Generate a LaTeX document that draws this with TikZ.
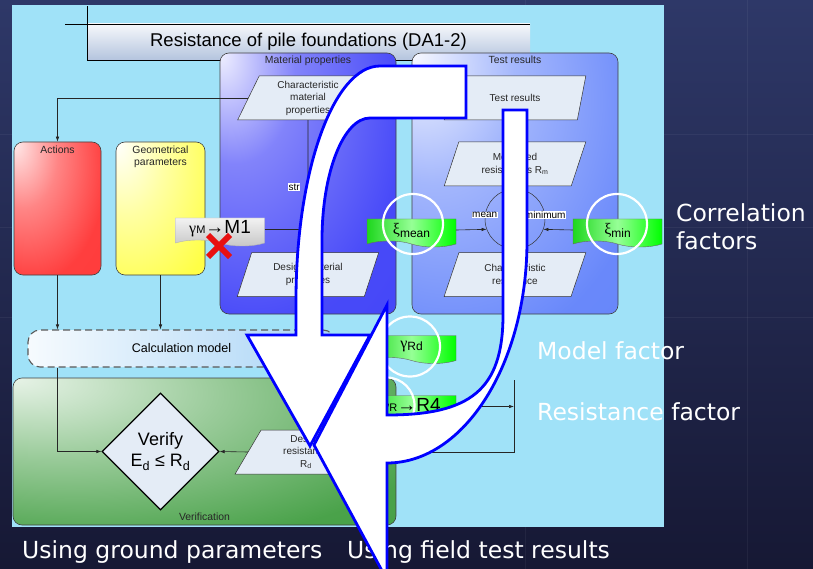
\documentclass[tikz,border=0pt]{standalone}
\usepackage{fontspec}
\setmainfont{Liberation Sans}
\newfontfamily\slidefont{DejaVu Sans}
\newfontfamily\greekfont{Liberation Serif}
\usetikzlibrary{positioning,shapes.geometric,shapes.symbols,arrows.meta}
\usepackage{xcolor}
\definecolor{slidetop}{RGB}{46,56,104}
\definecolor{slidebottom}{RGB}{22,24,52}
\definecolor{panelblue}{RGB}{160,226,248}
\definecolor{titlegrey}{RGB}{180,196,222}
\definecolor{matblue}{RGB}{60,62,248}
\definecolor{testblue}{RGB}{92,126,250}
\definecolor{actred}{RGB}{255,52,52}
\definecolor{geoyellow}{RGB}{255,255,50}
\definecolor{verifgreen}{RGB}{58,154,58}
\definecolor{calcblue}{RGB}{168,212,246}
\definecolor{paperfill}{RGB}{228,236,246}
\definecolor{tagdark}{RGB}{30,215,30}
\definecolor{taglight}{RGB}{150,255,150}
\definecolor{taglime}{RGB}{0,255,0}
\definecolor{pathblue}{RGB}{0,0,255}
\definecolor{crossred}{RGB}{232,16,16}

% light corner at the top left, full colour towards the far corner
\pgfdeclareradialshading{matglow}{\pgfpoint{-25bp}{25bp}}{color(0bp)=(white!92!matblue); color(17bp)=(matblue!64!white); color(42bp)=(matblue!94!white); color(100bp)=(matblue)}
\pgfdeclareradialshading{testglow}{\pgfpoint{-25bp}{25bp}}{color(0bp)=(white!95!testblue); color(20bp)=(testblue!56!white); color(46bp)=(testblue!92!white); color(100bp)=(testblue)}
\pgfdeclareradialshading{actglow}{\pgfpoint{-25bp}{25bp}}{color(0bp)=(white!90!actred); color(20bp)=(actred!60!white); color(42bp)=(actred!95!white); color(100bp)=(actred)}
\pgfdeclareradialshading{geoglow}{\pgfpoint{-25bp}{25bp}}{color(0bp)=(white); color(22bp)=(geoyellow!45!white); color(48bp)=(geoyellow!90!white); color(100bp)=(geoyellow)}
\pgfdeclareradialshading{verifglow}{\pgfpoint{-25bp}{25bp}}{color(0bp)=(white!88!verifgreen); color(22bp)=(verifgreen!52!white); color(46bp)=(verifgreen!92!white); color(100bp)=(verifgreen)}

\tikzset{
    group/.style={draw=black!75, line width=0.6pt, rounded corners=9pt, inner sep=0pt},
    grouptitle/.style={font=\fontsize{10.4}{12.5}\selectfont, text=black!85, inner sep=1pt, align=center},
    paper/.style={trapezium, trapezium left angle=69, trapezium right angle=111,
        trapezium stretches=true, minimum width=142pt, minimum height=44pt,
        draw=black!80, line width=0.5pt, fill=paperfill, inner sep=1pt,
        font=\fontsize{10}{12.5}\selectfont, text=black!85, align=center},
    tag/.style={tape, tape bend top=none, tape bend bottom=out and in, tape bend height=6pt,
        minimum width=89pt, minimum height=28pt, draw=black!60, line width=0.4pt, inner sep=0pt},
    greentag/.style={tag, left color=tagdark, right color=taglime, middle color=taglight},
    flow/.style={-{Latex[length=5pt,width=3.5pt]}, line width=0.6pt, draw=black!85},
    ring/.style={draw=white, line width=2.2pt},
    bigarrow/.style={fill=white, draw=pathblue, line width=2.8pt, line join=miter},
    slidetext/.style={text=white, font=\slidefont\fontsize{23.5}{28}\selectfont, anchor=base west, inner sep=0pt}
}

\begin{document}
\begin{tikzpicture}[x=1pt, y=-1pt]
        \useasboundingbox (0,0) rectangle (813,569);
        \shade[top color=slidetop, bottom color=slidebottom] (0,0) rectangle (813,569);
        \foreach \gx in {525,747}
            \draw[white, opacity=0.05, line width=1pt] (\gx,0) -- (\gx,569);
        \foreach \gy in {135,228,317}
            \draw[white, opacity=0.05, line width=1pt] (0,\gy) -- (813,\gy);
        \fill[panelblue] (12,5) rectangle (664,527);

        \node[top color=white!88!titlegrey, bottom color=titlegrey, minimum width=443pt, minimum height=36pt,
            inner sep=0pt, font=\fontsize{18.5}{20}\selectfont] (title) at (308.5,42) {Resistance of pile foundations (DA1-2)};
        \draw[line width=0.8pt] (65,24) -- (530,24) (87,6) -- (87,60) -- (530,60);

        \node[group, shading=matglow, minimum width=176pt, minimum height=261pt] (matprops) at (308,183.5) {};
        \node[group, shading=testglow, minimum width=206pt, minimum height=261pt] (testbox) at (515,183.5) {};
        \node[group, shading=actglow, minimum width=87pt, minimum height=133pt] (actions) at (57.5,208.5) {};
        \node[group, shading=geoglow, minimum width=89pt, minimum height=133pt] (geometry) at (160.5,208.5) {};
        \node[group, rounded corners=12pt, draw=black!65, line width=1.1pt, dash pattern=on 7pt off 4pt,
            left color=white!90!calcblue, right color=calcblue, minimum width=307pt, minimum height=37pt,
            font=\fontsize{12.5}{14}\selectfont] (calcmodel) at (181.5,348.5) {Calculation model};
        \node[group, shading=verifglow, minimum width=383pt, minimum height=147pt] (verifbox) at (204.5,451.5) {};

        \node[grouptitle, below=2pt of matprops.north] (mattitle) {Material properties};
        \node[grouptitle, below=2pt of testbox.north] (testtitle) {Test results};
        \node[grouptitle, below=3pt of actions.north] (acttitle) {Actions};
        \node[grouptitle, below=3pt of geometry.north] (geotitle) {Geometrical\\parameters};
        \node[grouptitle, above=4pt of verifbox.south] (veriftitle) {Verification};

        \node[paper] (charmat) at (308,98) {Characteristic\\material\\properties};
        \node[paper] (desmat) at (308,274.5) {Design material\\properties};
        \node[paper] (testres) at (515,98) {Test results};
        \node[paper] (measured) at (515,164) {Measured\\resistances R\textsubscript{m}};
        \node[paper] (charres) at (515,274.5) {Characteristic\\resistance};
        \node[paper] (desres) at (306,452) {Design\\resistance\\R\textsubscript{d}};
        \node[circle, draw=black!80, line width=0.5pt, minimum size=60pt, inner sep=0pt] (combine) at (515,219) {};
        \node[diamond, draw=black, line width=1.2pt, fill=paperfill, minimum size=117pt, inner sep=0pt,
            font=\fontsize{18}{21}\selectfont, align=center] (verify) at (160.5,451.5)
            {Verify\\E\textsubscript{d} ≤ R\textsubscript{d}};

        \draw[flow] (charmat.west) -| (actions.north);
        \draw[flow] (charmat.south) -- (desmat.north);
        \node[fill=white, inner sep=0.5pt, font=\fontsize{10}{12}\selectfont, anchor=west] (strlabel) at (288,187) {str};
        \draw[flow] (actions.south) -- (actions.south |- calcmodel.north);
        \draw[flow] (geometry.south) -- (geometry.south |- calcmodel.north);
        \draw[flow] (calcmodel.south -| actions.south) |- (verify.west);
        \draw[flow] (desres.west) -- (verify.east);

        \node[tag, top color=gray!10, bottom color=gray!45, draw=gray!60] (gammaM) at (220,229)
            {{\greekfont\fontsize{16}{16}\selectfont γ}{\fontsize{11}{11}\selectfont M}{\fontsize{19}{19}\selectfont →}{\fontsize{19}{19}\selectfont M1}};
        \node[greentag] (ximean) at (411.5,230)
            {{\greekfont\fontsize{16}{16}\selectfont ξ}\raisebox{-3pt}{\fontsize{12}{12}\selectfont mean}};
        \node[greentag] (ximin) at (617.5,230)
            {{\greekfont\fontsize{16}{16}\selectfont ξ}\raisebox{-3pt}{\fontsize{12}{12}\selectfont min}};
        \node[greentag] (gammaRd) at (411.5,346.5)
            {{\greekfont\fontsize{16}{16}\selectfont γ}\raisebox{-2pt}{\fontsize{12}{12}\selectfont Rd}};
        \node[greentag] (gammaR) at (411.5,406.5)
            {{\greekfont\fontsize{16}{16}\selectfont γ}{\fontsize{11}{11}\selectfont R}{\fontsize{19}{19}\selectfont →}{\fontsize{19}{19}\selectfont R4}};

        \draw[flow] (gammaM.east) -- (gammaM.east -| desmat.north);
        \draw[flow] (ximean.east) -- (combine.200);
        \draw[flow] (ximin.west) -- (combine.-20);
        \node[fill=white, inner sep=0.5pt, font=\fontsize{10}{12}\selectfont] (meanlabel) at ([yshift=4pt]combine.west) {mean};
        \node[fill=white, inner sep=0.5pt, font=\fontsize{10}{12}\selectfont] (minlabel) at ([yshift=4pt]combine.east) {minimum};
        \coordinate (rdjoin) at (514,380);
        \draw[line width=0.6pt, black!85] (rdjoin) |- (desres.east);
        \draw[flow] (gammaR.east) -- (gammaR.east -| rdjoin);

        \draw[crossred, line width=6pt] (208,235) -- (230,257) (208,257) -- (230,235);

        \draw[ring] ([yshift=6pt, xshift=1.5pt]ximean.center) circle[radius=30pt];
        \draw[ring] ([yshift=6pt, xshift=-0.5pt]ximin.center) circle[radius=30pt];
        \draw[ring] ([xshift=-1.5pt]gammaRd.center) circle[radius=30pt];
        \draw[ring] ([xshift=-25pt, yshift=1pt]gammaR.center) circle[radius=28pt];

        \node[slidetext] (corrtop) at (676,222) {Correlation};
        \node[slidetext] (corrbot) at (676,250) {factors};
        \node[slidetext] (modelf) at (537,359) {Model factor};
        \node[slidetext] (resf) at (537,420) {Resistance factor};
        \node[slidetext] (groundway) at (22,558) {Using ground parameters};
        \node[slidetext] (fieldway) at (347,558) {Using field test results};

        \draw[bigarrow] (466,66) -- (380,66) .. controls (333.6,66) and (296,170.8) .. (296,300)
            -- (296,335) -- (247,335) -- (310,446) -- (370,335) -- (322,335) -- (322,240)
            .. controls (322,172.6) and (343.5,118) .. (370,118) -- (466,118) -- cycle;
        \draw[bigarrow] (503,110) -- (527,110) -- (527,241) .. controls (527,363.6) and (464.3,463) .. (387,463)
            -- (387,580) -- (314,445) -- (387,305) -- (387,415) .. controls (470,415) and (503,390) .. (503,315) -- cycle;
\end{tikzpicture}
\end{document}
